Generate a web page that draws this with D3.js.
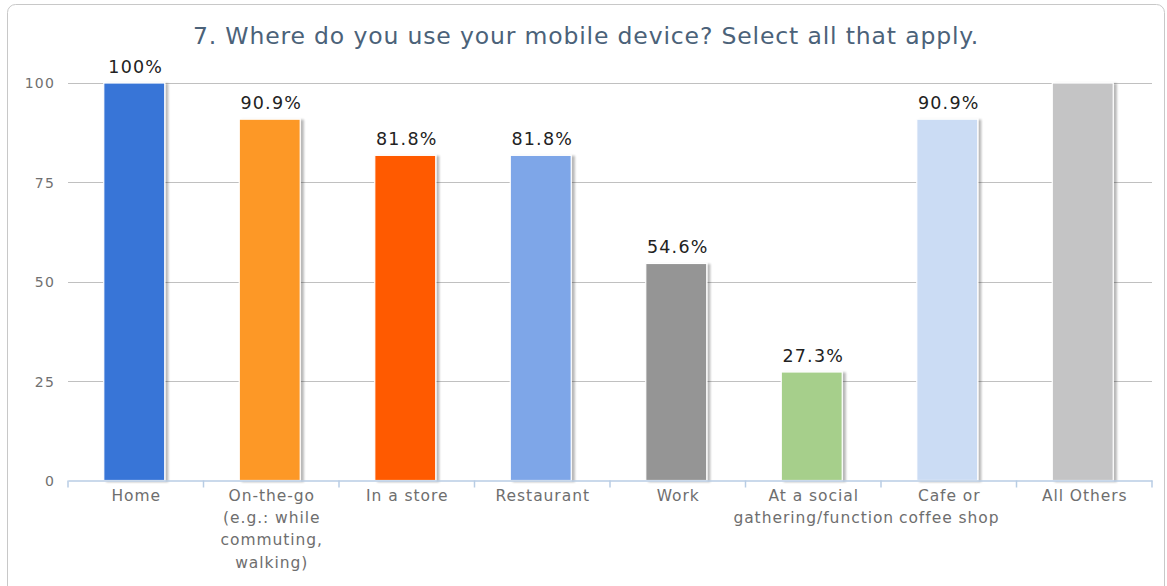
<!DOCTYPE html>
<html>
<head>
<meta charset="utf-8">
<script src="https://cdn.jsdelivr.net/npm/d3@7"></script>
<style>
  html, body { margin: 0; padding: 0; background: #fff; }
  svg { display: block; font-family: "DejaVu Sans", sans-serif; }
</style>
</head>
<body>
<svg id="chart" width="1167" height="586"></svg>
<script>
// Survey question 7: share of respondents using a mobile device in each place
const titleText = "7. Where do you use your mobile device? Select all that apply.";
const categories = [
  ["Home"],
  ["On-the-go", "(e.g.: while", "commuting,", "walking)"],
  ["In a store"],
  ["Restaurant"],
  ["Work"],
  ["At a social", "gathering/function"],
  ["Cafe or", "coffee shop"],
  ["All Others"]
];
const values = [100, 90.9, 81.8, 81.8, 54.6, 27.3, 90.9, 100];
const valueLabels = ["100%", "90.9%", "81.8%", "81.8%", "54.6%", "27.3%", "90.9%", null];
const barColors = ["#3875d7", "#fd9827", "#ff5a00", "#7ea6e8", "#959595", "#a6cf8b", "#cbdcf4", "#c4c4c5"];
const yTicks = [0, 25, 50, 75, 100];

const svg = d3.select("#chart");
const plot = { left: 68, right: 1152, top: 83, bottom: 480.5 };

// drop shadow for the bars
const defs = svg.append("defs");
const f = defs.append("filter").attr("id", "barShadow")
  .attr("x", "-10%").attr("y", "-5%").attr("width", "130%").attr("height", "115%");
f.append("feOffset").attr("in", "SourceAlpha").attr("dx", 2.5).attr("dy", 1).attr("result", "off");
f.append("feGaussianBlur").attr("in", "off").attr("stdDeviation", 1).attr("result", "blur");
f.append("feComponentTransfer").attr("in", "blur").attr("result", "sh")
  .append("feFuncA").attr("type", "linear").attr("slope", 0.28);
const fm = f.append("feMerge");
fm.append("feMergeNode").attr("in", "sh");
fm.append("feMergeNode").attr("in", "SourceGraphic");

// outer frame
svg.append("rect")
  .attr("x", 7.5).attr("y", 4.5).attr("width", 1157).attr("height", 600)
  .attr("rx", 8).attr("ry", 8)
  .attr("fill", "#fff").attr("stroke", "#c8c8c8").attr("stroke-width", 1);

// title
svg.append("text")
  .attr("x", 586).attr("y", 44)
  .attr("text-anchor", "middle")
  .attr("font-size", 23.5)
  .attr("letter-spacing", 0.85)
  .attr("fill", "#4b6279")
  .text(titleText);

const x = d3.scaleBand()
  .domain(d3.range(categories.length))
  .range([plot.left, plot.right]);
const y = d3.scaleLinear().domain([0, 100]).range([plot.bottom, plot.top]);

// horizontal gridlines
svg.append("g").selectAll("line")
  .data(yTicks.filter(t => t > 0))
  .join("line")
  .attr("x1", plot.left).attr("x2", plot.right)
  .attr("y1", d => Math.round(y(d)) + 0.5).attr("y2", d => Math.round(y(d)) + 0.5)
  .attr("stroke", "#c0c0c0").attr("stroke-width", 1);

// y axis labels
const yAxis = d3.axisLeft(y).tickValues(yTicks).tickSize(0).tickPadding(0);
const yG = svg.append("g").attr("transform", `translate(${plot.left - 13},0)`).call(yAxis);
yG.select(".domain").remove();
yG.selectAll("text")
  .attr("font-family", "DejaVu Sans, sans-serif")
  .attr("font-size", 14)
  .attr("letter-spacing", 1.2)
  .attr("fill", "#707070")
  .attr("dy", "0.35em");

// bars
const barW = x.bandwidth() * 0.45;
svg.append("g").selectAll("rect")
  .data(values)
  .join("rect")
  .attr("x", (d, i) => x(i) + (x.bandwidth() - barW) / 2 - 1.5)
  .attr("y", d => y(d))
  .attr("width", barW)
  .attr("height", d => plot.bottom - y(d))
  .attr("fill", (d, i) => barColors[i])
  .attr("stroke", "#ffffff").attr("stroke-width", 1.2)
  .attr("filter", "url(#barShadow)");

// value labels
svg.append("g").selectAll("text")
  .data(values.map((v, i) => ({ v, i, label: valueLabels[i] })).filter(d => d.label))
  .join("text")
  .attr("x", d => x(d.i) + x.bandwidth() / 2)
  .attr("y", d => y(d.v) - 10)
  .attr("text-anchor", "middle")
  .attr("font-size", 17.5)
  .attr("letter-spacing", 1.2)
  .attr("fill", "#222")
  .text(d => d.label);

// x axis: baseline with category separators
const xAxis = d3.axisBottom(x).tickSize(0).tickFormat(() => "");
const xG = svg.append("g").attr("transform", `translate(0,${plot.bottom})`).call(xAxis);
xG.select(".domain").attr("stroke", "#b8cde4").attr("stroke-width", 1.5);
xG.selectAll(".tick").remove();
xG.selectAll(".sep")
  .data(d3.range(categories.length + 1))
  .join("line")
  .attr("class", "sep")
  .attr("x1", i => i < categories.length ? x(i) : plot.right)
  .attr("x2", i => i < categories.length ? x(i) : plot.right)
  .attr("y1", 0).attr("y2", 7)
  .attr("stroke", "#b8cde4").attr("stroke-width", 1.5);

// category labels (multi-line)
const catG = svg.append("g").selectAll("text")
  .data(categories)
  .join("text")
  .attr("text-anchor", "middle")
  .attr("font-size", 15.5)
  .attr("letter-spacing", 0.95)
  .attr("fill", "#6e6e6e")
  .attr("transform", (d, i) => `translate(${x(i) + x.bandwidth() / 2 + 0.5},501)`);
catG.selectAll("tspan")
  .data(d => d)
  .join("tspan")
  .attr("x", 0)
  .attr("y", (d, j) => j * 22.2)
  .text(d => d);
</script>
</body>
</html>
